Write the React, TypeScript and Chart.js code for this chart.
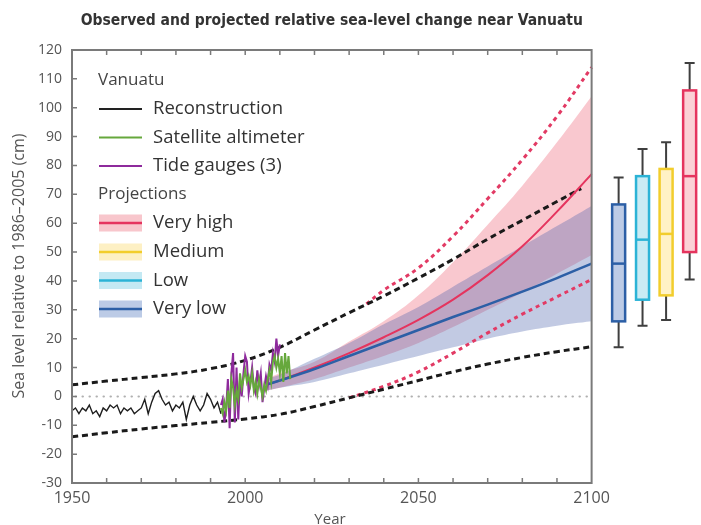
import { useEffect, useRef } from "react";
import { Chart, registerables } from "chart.js";

Chart.register(...registerables);

const TITLE = "Observed and projected relative sea-level change near Vanuatu";
const Y_TITLE = "Sea level relative to 1986–2005 (cm)";
const X_TITLE = "Year";
const X_TICKS = [1950, 2000, 2050, 2100];

// Reconstruction (black)
const reconYears = [1950, 1951, 1952, 1953, 1954, 1955, 1956, 1957, 1958, 1959, 1960, 1961, 1962, 1963, 1964, 1965, 1966, 1967, 1968, 1969, 1970, 1971, 1972, 1973, 1974, 1975, 1976, 1977, 1978, 1979, 1980, 1981, 1982, 1983, 1984, 1985, 1986, 1987, 1988, 1989, 1990, 1991, 1992, 1993];
const reconValues = [-5, -4, -6, -4, -5, -3, -6, -5, -7, -4, -5, -3, -4, -3, -6, -4, -5, -4, -6, -5, -4, -1, -6, -2, 1, 2, -1, -3, -2, -5, -3, -4, -2, -8, -3, 0, -3, -5, -3, 1, -1, -4, -2, -6];

// Satellite altimeter (green)
const satYears = [1993, 1993.5, 1994, 1994.5, 1995, 1995.5, 1996, 1996.5, 1997, 1997.5, 1998, 1998.5, 1999, 1999.5, 2000, 2000.5, 2001, 2001.5, 2002, 2002.5, 2003, 2003.5, 2004, 2004.5, 2005, 2005.5, 2006, 2006.5, 2007, 2007.5, 2008, 2008.5, 2009, 2009.5, 2010, 2010.5, 2011, 2011.5, 2012, 2012.5, 2013];
const satValues = [-4, -6, -2, -5, 2, -4, 6, 3, -3, 2, -1, 8, 3, 6, 9, 5, 7, 4, 8, 2, 5, 1, 6, 3, 0, 4, 2, 6, 9, 5, 12, 14, 10, 13, 8, 14, 5, 15, 8, 14, 6];

// Tide gauges (purple)
const tideYears = [1993, 1993.5, 1994, 1994.5, 1995, 1995.5, 1996, 1996.5, 1997, 1997.5, 1998, 1998.5, 1999, 1999.5, 2000, 2000.5, 2001, 2001.5, 2002, 2002.5, 2003, 2003.5, 2004, 2004.5, 2005, 2005.5, 2006, 2006.5, 2007, 2007.5, 2008, 2008.5, 2009, 2009.5, 2010];
const tideValues = [-3, -1, -9, -4, 6, -11, 8, 15, -9, 10, -8, 6, 0, 8, 14, 12, 1, 5, 10, 3, 1, 9, 4, 8, -2, 3, 7, 4, 11, 9, 15, 12, 20, 14, 18];

// Projections
const projYears = [2006, 2010, 2020, 2030, 2040, 2050, 2060, 2070, 2080, 2090, 2100];
const veryLowMedian = [4, 5.5, 9.5, 14, 18.5, 23, 27.5, 31.8, 36.3, 41, 46];
const veryLowLower = [2, 3, 5, 8, 11, 14, 17, 20, 22.5, 24.5, 26];
const veryLowUpper = [6, 7.5, 13, 18.5, 25, 31, 38, 45, 52, 59, 66];
const veryHighMedian = [4, 5.5, 10, 15, 20.5, 26.5, 33.5, 42, 52, 64, 77];
const veryHighLower = [2, 3, 6, 10, 14, 18.5, 24, 30, 36, 42.5, 49];
const veryHighUpper = [6, 8, 12, 19, 26, 35, 46.5, 59.5, 73, 88, 104];

// Dashed envelopes
const blackUpperYears = [1950, 1960, 1970, 1980, 1990, 2000, 2010, 2020, 2030, 2040, 2050, 2060, 2070, 2080, 2090, 2097];
const blackEnvUpper = [4, 5.3, 6.5, 7.8, 9.6, 12.5, 17, 23, 29, 34.8, 41, 47.5, 54.5, 61, 67.5, 72];
const blackLowerYears = [1950, 1960, 1970, 1980, 1990, 2000, 2010, 2020, 2030, 2040, 2050, 2060, 2070, 2080, 2090, 2100];
const blackEnvLower = [-14, -12.6, -11.3, -10.1, -9, -7.8, -6.2, -3.5, -0.5, 2.5, 5.5, 8.5, 11.2, 13.5, 15.5, 17.2];
const pinkUpperYears = [2035, 2040, 2050, 2060, 2070, 2080, 2090, 2100];
const pinkEnvUpper = [32, 36.8, 44.5, 55.5, 68.5, 82, 97, 114];
const pinkLowerYears = [2030, 2040, 2050, 2060, 2070, 2080, 2090, 2100];
const pinkEnvLower = [-0.5, 3.5, 8.5, 15, 22, 28.5, 34.5, 40.5];

// 2100 box plots
const boxNames = ["Very low", "Low", "Medium", "Very high"];
const boxWhiskerLow = [17, 24.5, 26.5, 40.5];
const boxQ1 = [26, 33.5, 35, 50];
const boxMedian = [46, 54.3, 56.3, 76.3];
const boxQ3 = [66.5, 76.3, 78.8, 106];
const boxWhiskerHigh = [75.8, 85.7, 88, 115.5];

const BOX_POS = [2107.8, 2114.7, 2121.5, 2128.3];
const BOX_STROKE = ["#2c5fa6", "#2bb3d6", "#f2cd2c", "#e5345e"];
const BOX_FILL = ["#bccbe6", "#c9ebf4", "#fff2c6", "#fbd1d6"];

const FONT = '"Open Sans", "Noto Sans", sans-serif';
const TITLE_FONT = 'bold 15.5px "Liberation Sans Narrow", "DejaVu Sans Condensed", sans-serif';

const pts = (xs: number[], ys: number[]) => xs.map((x, i) => ({ x, y: ys[i] }));

const decorPlugin = {
  id: "decor",
  beforeDatasetsDraw(chart: any) {
    const { ctx, scales } = chart;
    const x = scales.x, y = scales.y;
    ctx.save();
    ctx.strokeStyle = "#b0b0b0";
    ctx.lineWidth = 2;
    ctx.lineCap = "round";
    ctx.setLineDash([0.5, 6.5]);
    ctx.beginPath();
    ctx.moveTo(x.getPixelForValue(1951), y.getPixelForValue(0));
    ctx.lineTo(x.getPixelForValue(2100), y.getPixelForValue(0));
    ctx.stroke();
    ctx.restore();
  },
  afterDatasetsDraw(chart: any) {
    const { ctx, scales } = chart;
    const x = scales.x, y = scales.y;
    const x0 = x.getPixelForValue(1950), x1 = x.getPixelForValue(2100);
    const yT = y.getPixelForValue(120), yB = y.getPixelForValue(-30);
    ctx.save();
    // frame
    ctx.strokeStyle = "#7a7a7a";
    ctx.lineWidth = 2;
    ctx.strokeRect(x0, yT, x1 - x0, yB - yT);
    ctx.lineWidth = 1.5;
    ctx.beginPath();
    for (let v = -20; v <= 110; v += 10) {
      const p = y.getPixelForValue(v);
      ctx.moveTo(x0, p);
      ctx.lineTo(x0 + 5, p);
    }
    for (let yr = 1960; yr <= 2090; yr += 10) {
      const p = x.getPixelForValue(yr);
      ctx.moveTo(p, yT);
      ctx.lineTo(p, yT + 5);
      ctx.moveTo(p, yB);
      ctx.lineTo(p, yB - 5);
    }
    ctx.stroke();

    // box plots
    for (let i = 0; i < boxNames.length; i++) {
      const cx = x.getPixelForValue(BOX_POS[i]);
      const w = 13;
      const pWl = y.getPixelForValue(boxWhiskerLow[i]);
      const pQ1 = y.getPixelForValue(boxQ1[i]);
      const pMd = y.getPixelForValue(boxMedian[i]);
      const pQ3 = y.getPixelForValue(boxQ3[i]);
      const pWh = y.getPixelForValue(boxWhiskerHigh[i]);
      ctx.strokeStyle = "#3f3f3f";
      ctx.lineWidth = 2;
      ctx.beginPath();
      ctx.moveTo(cx, pWh); ctx.lineTo(cx, pQ3);
      ctx.moveTo(cx, pQ1); ctx.lineTo(cx, pWl);
      ctx.moveTo(cx - 5, pWh); ctx.lineTo(cx + 5, pWh);
      ctx.moveTo(cx - 5, pWl); ctx.lineTo(cx + 5, pWl);
      ctx.stroke();
      ctx.fillStyle = BOX_FILL[i];
      ctx.fillRect(cx - w / 2, pQ3, w, pQ1 - pQ3);
      ctx.strokeStyle = BOX_STROKE[i];
      ctx.lineWidth = 2.5;
      ctx.strokeRect(cx - w / 2, pQ3, w, pQ1 - pQ3);
      ctx.beginPath();
      ctx.moveTo(cx - w / 2, pMd); ctx.lineTo(cx + w / 2, pMd);
      ctx.stroke();
    }

    // legend
    const lx0 = 99, lx1 = 142, tx = 153;
    ctx.textBaseline = "middle";
    ctx.textAlign = "left";
    ctx.font = `17px ${FONT}`;
    ctx.fillStyle = "#444";
    ctx.fillText("Vanuatu", 98, 80);
    ctx.fillText("Projections", 98, 194);
    ctx.font = `18.5px ${FONT}`;
    const lineItems: [string, string, number][] = [
      ["Reconstruction", "#222222", 109],
      ["Satellite altimeter", "#66a83c", 137.5],
      ["Tide gauges (3)", "#8e2a9c", 166],
    ];
    ctx.lineWidth = 2;
    for (const [label, col, yy] of lineItems) {
      ctx.strokeStyle = col;
      ctx.beginPath(); ctx.moveTo(lx0, yy); ctx.lineTo(lx1, yy); ctx.stroke();
      ctx.fillStyle = "#333";
      ctx.fillText(label, tx, yy);
    }
    const bandItems: [string, string, string, number][] = [
      ["Very high", "#f8c6cc", "#e5345e", 223],
      ["Medium", "#fdf0c4", "#f2cd2c", 252],
      ["Low", "#c4e9f3", "#2bb3d6", 280.5],
      ["Very low", "#bccbe6", "#2c5fa6", 309],
    ];
    for (const [label, fill, col, yy] of bandItems) {
      ctx.fillStyle = fill;
      ctx.fillRect(lx0, yy - 8.5, lx1 - lx0, 17);
      ctx.strokeStyle = col;
      ctx.lineWidth = 2.5;
      ctx.beginPath(); ctx.moveTo(lx0, yy); ctx.lineTo(lx1, yy); ctx.stroke();
      ctx.fillStyle = "#333";
      ctx.fillText(label, tx, yy);
    }

    // titles
    ctx.fillStyle = "#333";
    ctx.textAlign = "center";
    ctx.font = TITLE_FONT;
    ctx.fillText(TITLE, (x0 + x1) / 2, 21);
    ctx.fillStyle = "#555";
    ctx.font = `15px ${FONT}`;
    ctx.fillText(X_TITLE, 330, 520);
    ctx.save();
    ctx.translate(19, 266);
    ctx.rotate(-Math.PI / 2);
    ctx.font = `16px ${FONT}`;
    ctx.fillText(Y_TITLE, 0, 0);
    ctx.restore();
    ctx.restore();
  },
};

export default function App() {
  const ref = useRef<HTMLCanvasElement>(null);
  useEffect(() => {
    if (!ref.current) return;
    const line = (data: any, color: string, width: number, order: number, extra: any = {}) => ({
      type: "line",
      data,
      borderColor: color,
      backgroundColor: color,
      borderWidth: width,
      pointRadius: 0,
      fill: false,
      order,
      tension: 0,
      ...extra,
    });
    const smooth = { tension: 0.4 };
    const chart = new Chart(ref.current, {
      type: "line",
      data: {
        datasets: [
          line(pts(reconYears, reconValues), "#1e1e1e", 1.4, 3),
          line(pts(satYears, satValues), "#66a83c", 2, 1),
          line(pts(tideYears, tideValues), "#8e2a9c", 2, 2),
          line(pts(projYears, veryLowMedian), "#2c5fa6", 2.5, 4, smooth),
          line(pts(projYears, veryHighMedian), "#e5345e", 2, 5, smooth),
          line(pts(blackUpperYears, blackEnvUpper), "#1a1a1a", 3, 6, { ...smooth, borderDash: [6, 4] }),
          line(pts(blackLowerYears, blackEnvLower), "#1a1a1a", 3, 6, { ...smooth, borderDash: [6, 4] }),
          line(pts(pinkUpperYears, pinkEnvUpper), "#e23a64", 3, 6, { ...smooth, borderDash: [4, 4] }),
          line(pts(pinkLowerYears, pinkEnvLower), "#e23a64", 3, 6, { ...smooth, borderDash: [4, 4] }),
          line(pts(projYears, veryHighLower), "rgba(0,0,0,0)", 0, 12, smooth),
          line(pts(projYears, veryHighUpper), "rgba(0,0,0,0)", 0, 12, {
            ...smooth,
            fill: { target: 9, above: "rgba(240,118,134,0.4)", below: "rgba(240,118,134,0.4)" },
          }),
          line(pts(projYears, veryLowLower), "rgba(0,0,0,0)", 0, 11, smooth),
          line(pts(projYears, veryLowUpper), "rgba(0,0,0,0)", 0, 11, {
            ...smooth,
            fill: { target: 11, above: "rgba(70,95,170,0.33)", below: "rgba(70,95,170,0.33)" },
          }),
        ] as any,
      },
      options: {
        animation: false,
        responsive: false,
        maintainAspectRatio: false,
        layout: { padding: { left: 0, top: 50, right: 2, bottom: 0 } },
        plugins: {
          legend: { display: false },
          tooltip: { enabled: false },
          title: { display: false },
          filler: { drawTime: "beforeDatasetDraw" } as any,
        },
        scales: {
          x: {
            type: "linear",
            min: 1950,
            max: 2131,
            grid: { display: false, drawTicks: false },
            border: { display: false },
            afterBuildTicks: (s: any) => {
              s.ticks = X_TICKS.map((v) => ({ value: v }));
            },
            afterFit: (s: any) => {
              s.height = 42;
            },
            ticks: {
              autoSkip: false,
              maxRotation: 0,
              padding: 6,
              color: "#555",
              font: { family: FONT, size: 16 },
              callback: (v: any) => String(v),
            },
          },
          y: {
            type: "linear",
            min: -30,
            max: 120,
            grid: { display: false, drawTicks: false },
            border: { display: false },
            afterFit: (s: any) => {
              s.width = 72;
            },
            ticks: {
              stepSize: 10,
              autoSkip: false,
              padding: 10,
              color: "#555",
              font: { family: FONT, size: 14 },
            },
          },
        },
      },
      plugins: [decorPlugin],
    } as any);
    return () => chart.destroy();
  }, []);
  return (
    <div style={{ position: "absolute", left: 0, top: 0, width: 701, height: 525, background: "#fff" }}>
      <canvas ref={ref} width={701} height={525} style={{ display: "block", width: 701, height: 525 }} />
    </div>
  );
}
